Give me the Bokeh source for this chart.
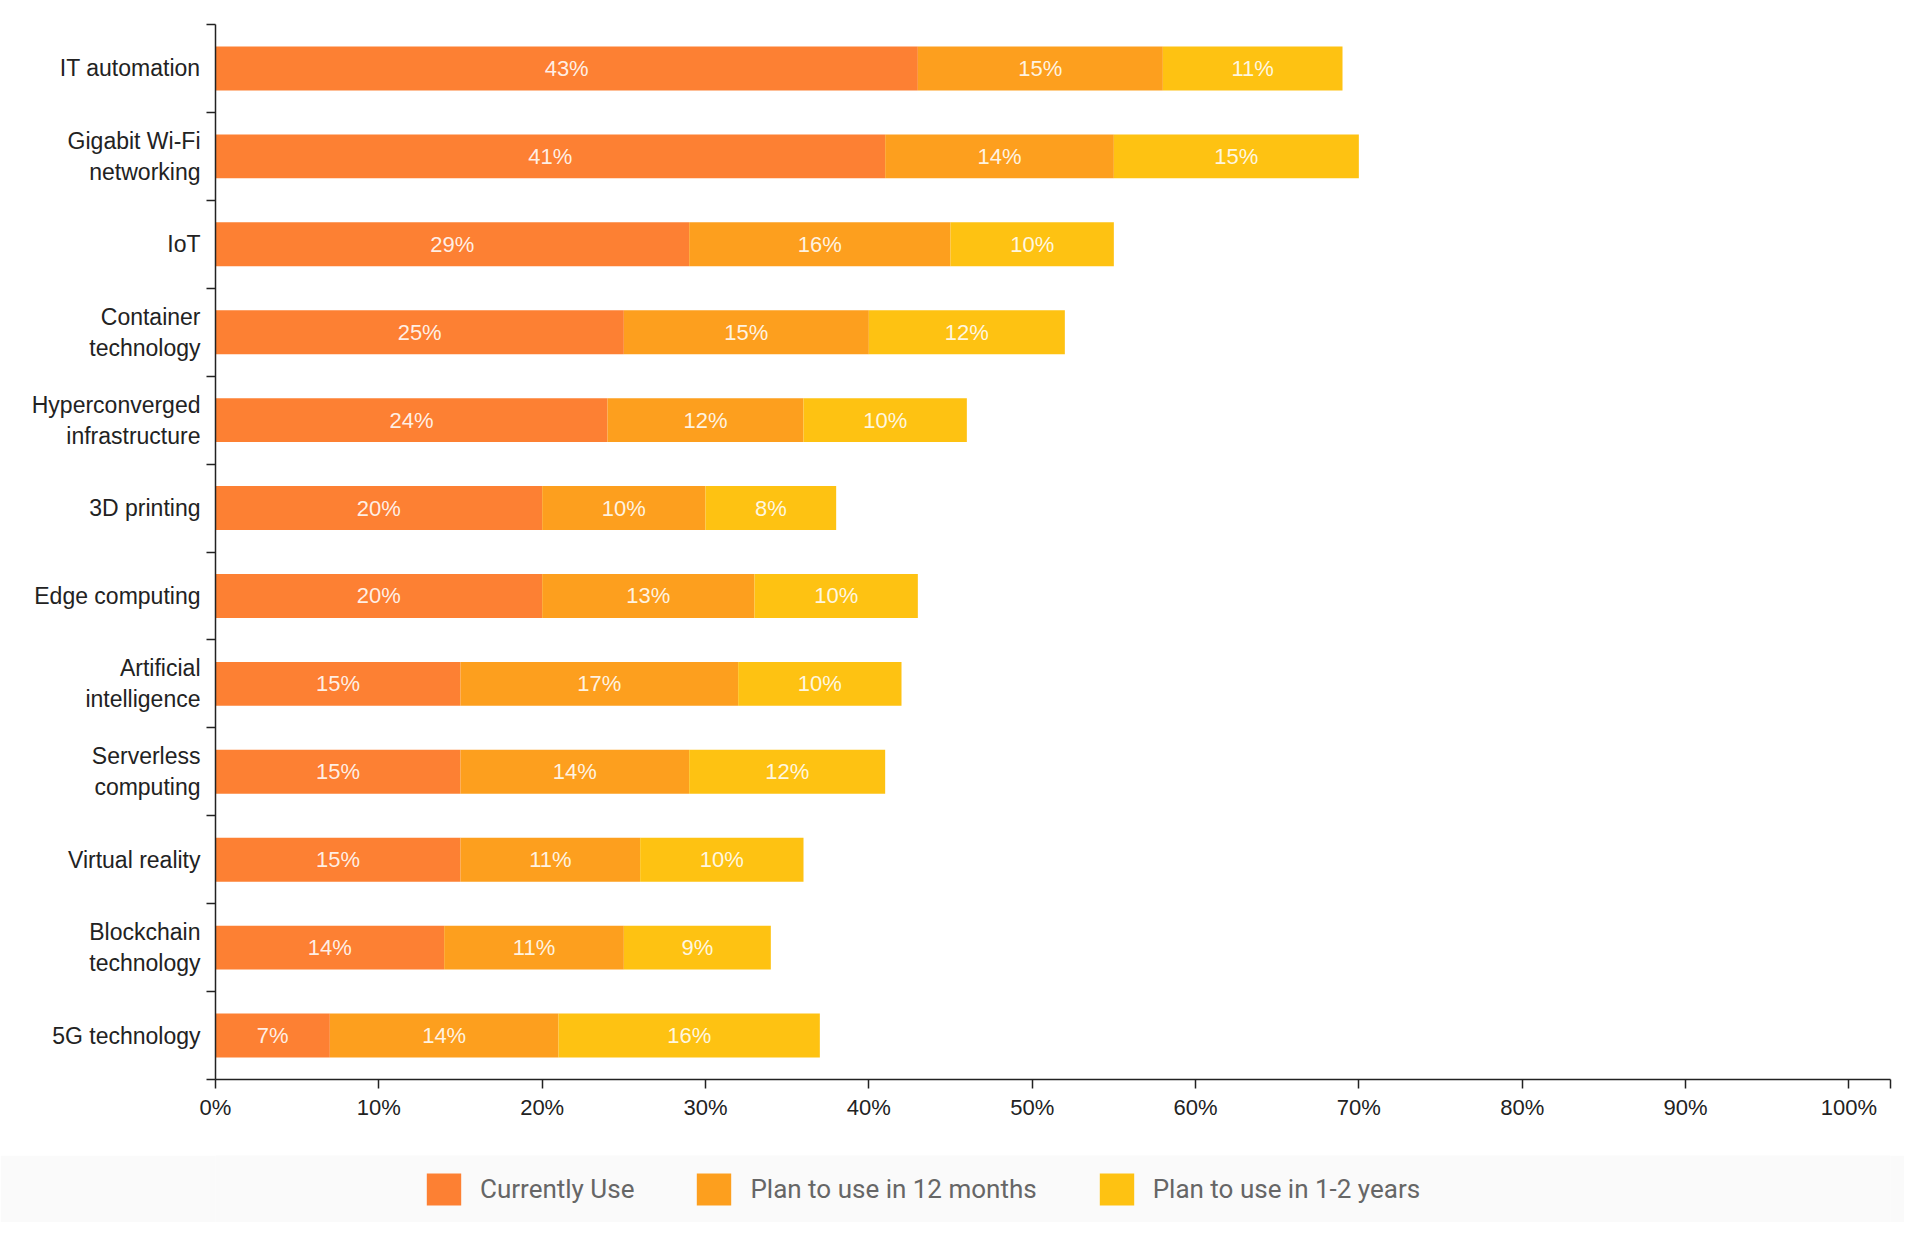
from bokeh.plotting import figure
from bokeh.models import ColumnDataSource, FixedTicker, Range1d, Legend, LegendItem, PrintfTickFormatter
from bokeh.layouts import column
from bokeh.core.properties import value
from bokeh.embed import file_html
from bokeh.resources import INLINE


categories = ['IT automation', 'Gigabit Wi-Fi\nnetworking', 'IoT', 'Container\ntechnology',
              'Hyperconverged\ninfrastructure', '3D printing', 'Edge computing', 'Artificial\nintelligence',
              'Serverless\ncomputing', 'Virtual reality', 'Blockchain\ntechnology', '5G technology']
current_use = [43, 41, 29, 25, 24, 20, 20, 15, 15, 15, 14, 7]
plan_12_months = [15, 14, 16, 15, 12, 10, 13, 17, 14, 11, 11, 14]
plan_1_2_years = [11, 15, 10, 12, 10, 8, 10, 10, 12, 10, 9, 16]
series_names = ['Currently Use', 'Plan to use in 12 months', 'Plan to use in 1-2 years']
x_ticks = [0, 10, 20, 30, 40, 50, 60, 70, 80, 90, 100]

colors = ['#fd8033', '#fd9f1e', '#fec212']

n = len(categories)
pos = [n - i - 0.5 for i in range(n)]
x_end = 102.55

source = ColumnDataSource(dict(y=pos, cur=current_use, m12=plan_12_months, y12=plan_1_2_years))

p = figure(
    width=1904, height=1155,
    x_range=Range1d(0, x_end), y_range=Range1d(0, n),
    output_backend="svg", toolbar_location=None, tools="",
    min_border_left=215, min_border_right=14, min_border_top=24, min_border_bottom=76,
)
p.outline_line_color = None
p.xgrid.visible = False
p.ygrid.visible = False

p.hbar_stack(['cur', 'm12', 'y12'], y='y', height=0.5, color=colors, line_width=0, source=source)

# labels in the middle of every segment
lx, ly, lt = [], [], []
for i in range(n):
    left = 0
    for vals in (current_use, plan_12_months, plan_1_2_years):
        v = vals[i]
        lx.append(left + v / 2)
        ly.append(pos[i])
        lt.append(f"{v}%")
        left += v
label_source = ColumnDataSource(dict(x=lx, y=ly, text=lt))
p.text(x='x', y='y', text='text', source=label_source,
       text_font=value("Liberation Sans"), text_font_size=value("22px"),
       text_color="white", text_alpha=0.88, text_align="center", text_baseline="middle")

# y axis: labels at band centres, ticks at band boundaries
p.yaxis.ticker = FixedTicker(ticks=pos, minor_ticks=list(range(n + 1)))
p.yaxis.major_label_overrides = {pos[i]: categories[i] for i in range(n)}
p.yaxis.major_tick_out = 0
p.yaxis.major_tick_in = 0
p.yaxis.minor_tick_out = 9
p.yaxis.minor_tick_in = 0
p.yaxis.major_label_standoff = 6
p.yaxis.major_label_text_font = "Liberation Sans"
p.yaxis.major_label_text_font_size = "23px"
p.yaxis.major_label_text_color = "#222222"

p.xaxis.ticker = FixedTicker(ticks=x_ticks, minor_ticks=[x_end])
p.xaxis.formatter = PrintfTickFormatter(format="%d%%")
p.xaxis.major_tick_out = 9
p.xaxis.major_tick_in = 0
p.xaxis.minor_tick_out = 9
p.xaxis.minor_tick_in = 0
p.xaxis.major_label_standoff = 6
p.xaxis.major_label_text_font = "Liberation Sans"
p.xaxis.major_label_text_font_size = "22px"
p.xaxis.major_label_text_color = "#222222"

for ax in (p.xaxis, p.yaxis):
    ax.axis_line_color = "#222222"
    ax.axis_line_width = 1.5
    ax.major_tick_line_color = "#222222"
    ax.major_tick_line_width = 1.5
    ax.minor_tick_line_color = "#222222"
    ax.minor_tick_line_width = 1.5

# legend strip under the chart
lg = figure(
    width=1904, height=67, x_range=Range1d(0, 1), y_range=Range1d(0, 1),
    output_backend="svg", toolbar_location=None, tools="",
    x_axis_location=None, y_axis_location=None,
    min_border_left=0, min_border_right=0, min_border_top=0, min_border_bottom=0,
)
lg.outline_line_color = None
lg.xgrid.visible = False
lg.ygrid.visible = False
lg.background_fill_color = "#fafafa"
lg.border_fill_color = "#fafafa"

# zero-size swatch proxies, only there so the legend has something to draw
proxy = ColumnDataSource(dict(y=[-10], left=[0], right=[0]))
items = []
for k in range(3):
    r = lg.hbar(y='y', left='left', right='right', height=0, color=colors[k], line_width=0, source=proxy)
    items.append(LegendItem(label=series_names[k], renderers=[r]))

legend = Legend(
    items=items, orientation="horizontal", location="center_left",
    glyph_width=43, glyph_height=40, label_standoff=15, spacing=58,
    padding=0, margin=207, border_line_color=None, background_fill_alpha=0,
    label_text_font="Roboto", label_text_font_size="26px", label_text_color="#666666",
)
lg.add_layout(legend, "center")

layout = column(p, lg, spacing=0)

open("out.html", "w").write(file_html(layout, INLINE))
